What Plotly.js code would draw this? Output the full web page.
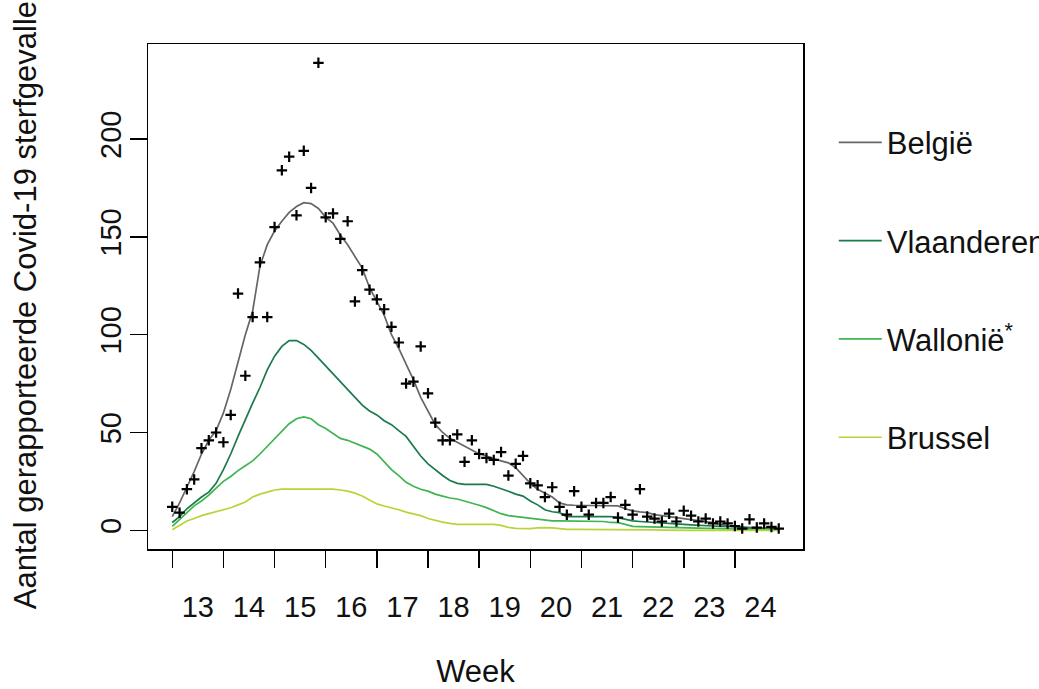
<!DOCTYPE html>
<html>
<head>
<meta charset="utf-8">
<script src="https://cdn.plot.ly/plotly-3.0.1.min.js"></script>
<style>html,body{margin:0;padding:0;background:#fff;}#chart{width:1039px;height:689px;}</style>
</head>
<body>
<div id="chart"></div>
<script>
// Day index 0 = first day of week 13
const days = Array.from({length: 84}, (_, i) => i);
const weekLabels = ['13','14','15','16','17','18','19','20','21','22','23','24'];
const weekStarts = [0,7,14,21,28,35,42,49,56,63,70,77];
const weekMids = [3.5,10.5,17.5,24.5,31.5,38.5,45.5,52.5,59.5,66.5,73.5,80.5];

// Reported daily deaths (points)
const reported = [12,9,21,26,42,46,50,45,59,121,79,109,137,109,155,184,191,161,194,175,
  239,160,162,149,158,117,133,123,118,113,104,96,75,76,94,70,55,46,46,49,
  35,46,39,37,36,40,28,34,38,24,23,17,22,12,8,20,12,8,14,14,
  17,6.5,13,8,21,7,6,4.5,8.5,4.5,10,7.5,4.5,6,3.5,4.5,3.5,2.2,0.9,5.6,
  1.4,3.5,1.7,0.9];

// Smoothed series
const belgie = [7,14,22,30,39,46,51,60,72,86,100,112,135,146,153,158,162.5,165.5,167.5,167,
  164.5,160,157,151,146,140,134,124,117,110,100,93,85,77,68,61,54,50,47,45,
  43,41,39,38,36.5,35.5,34.5,32,28,24,21,19,17,14,13,12.8,12.8,12.8,12.8,12.8,
  12.5,12.5,11,9.9,9.4,9,8,7.5,7,6.5,6,5.6,5,4.5,3.9,3,2.2,1.9,1.6,1.4,
  1.2,1.1,1,0.9];
const vlaanderen = [4,7,11,14,17,19.5,24,31,39,48,57,65,73,82,89,94,97,97,95,92,
  88,84,80,76,72,68,64,61,59,56,54,51,48,43,38,34,31,28,25.5,24,
  23.5,23.5,23.5,23.5,22.5,21.3,20,18.5,17.5,15,13,10.5,9.5,9,7,7,7,7,7,7,
  7,6.5,5.5,4.8,4.5,4.2,3.9,3.9,3.5,3.2,3,2.8,2.5,2.3,2.2,2,2,1.9,1.5,1,
  0.9,0.8,0.6,0.5];
const wallonie = [2,5.5,9.5,12.5,15,18,21.5,25,27.5,30.5,33,35.5,39,43,47,51,54.5,57,58,57,
  54,52,49.5,47,46,44.5,43,41.5,39,35,31,28,24.5,22.5,21,20,18.5,17.5,16.5,16,
  15,14,12.8,11.6,10,8.5,7.5,7,6.5,6,5.5,5,4.8,4.8,4.8,4.8,4.8,4.8,4.8,4.5,
  4,3.9,3,2,1.9,1.8,1.6,1.5,1.3,1.1,1,1,0.9,0.8,0.7,0.6,0.6,0.5,0.5,0.4,
  0.3,0.3,0.2,0.2];
const brussel = [0.3,2.5,4.8,6,7.5,8.5,9.5,10.5,11.5,13,14.5,17,18.5,19.5,20.6,21,21,21,21,21,
  21,21,21,20.6,20,19,17.5,15.5,13.5,12.4,11.5,10.5,9.3,8.5,7.5,6,5,4.2,3.5,3,
  3,3,3,3,3,2.5,1.5,1,0.9,0.9,1.2,1.4,1.2,0.8,0.5,0.5,0.5,0.5,0.5,0.5,
  0.5,0.5,0.5,0.5,0.5,0.5,0.2,0.1,0,0,0,0,0,0,0,0,0,0,0,0,
  0,0,0,0];

const seriesNames = ['België','Vlaanderen','Wallonië<sup>*</sup>','Brussel'];
const seriesColors = ['#666666','#1b7a4b','#3fb450','#b8d438'];
const seriesData = [belgie, vlaanderen, wallonie, brussel];

const FONT = 'Liberation Sans, Arial, sans-serif';
const FS_TICK = 29;
const FS_LAB = 31;
const XR = [-3.32, 86.32];

const traces = seriesData.map((ys, i) => ({
  x: days, y: ys, type: 'scatter', mode: 'lines',
  name: seriesNames[i], legendgroup: 'g' + i,
  line: {color: seriesColors[i], width: 1.7},
  hoverinfo: 'skip'
}));
traces.unshift({
  x: days, y: reported, type: 'scatter', mode: 'markers', showlegend: false,
  xaxis: 'x2', yaxis: 'y',
  marker: {symbol: 'cross-thin', size: 7.5, color: '#000', line: {color: '#000', width: 2.2}},
  hoverinfo: 'skip'
});

const layout = {
  width: 1039, height: 689,
  margin: {l: 148, r: 236, t: 44, b: 140, pad: 0, autoexpand: false},
  paper_bgcolor: '#fff', plot_bgcolor: '#fff',
  font: {family: FONT, size: FS_LAB, color: '#111'},
  showlegend: true,
  legend: {
    x: 1.047, xanchor: 'left', y: 0.858, yanchor: 'top',
    font: {family: FONT, size: FS_LAB, color: '#111'},
    tracegroupgap: 55, itemwidth: 43, bgcolor: 'rgba(0,0,0,0)'
  },
  xaxis: {
    range: XR, tickvals: weekStarts, showticklabels: false,
    ticks: 'outside', ticklen: 17, tickwidth: 1.5, tickcolor: '#000',
    showline: true, mirror: true, linecolor: '#000', linewidth: 1.5,
    showgrid: false, zeroline: false
  },
  xaxis2: {
    range: XR, overlaying: 'x', side: 'bottom', anchor: 'y',
    tickvals: weekMids, ticktext: weekLabels, ticks: '',
    ticklabelstandoff: 38,
    showline: false, showgrid: false, zeroline: false,
    tickfont: {family: FONT, size: FS_TICK, color: '#111'},
    title: {text: 'Week', font: {family: FONT, size: FS_LAB, color: '#111'}, standoff: 51}
  },
  yaxis: {
    range: [-9.56, 248.6], tickvals: [0,50,100,150,200],
    tickangle: -90, ticklabelstandoff: -3,
    ticks: 'outside', ticklen: 17, tickwidth: 1.5, tickcolor: '#000',
    showline: true, mirror: true, linecolor: '#000', linewidth: 1.5,
    showgrid: false, zeroline: false,
    tickfont: {family: FONT, size: FS_TICK, color: '#111'},
    title: {text: 'Aantal gerapporteerde Covid-19 sterfgevallen', font: {family: FONT, size: FS_LAB, color: '#111'}, standoff: 49}
  }
};

Plotly.newPlot('chart', traces, layout, {displayModeBar: false, staticPlot: true});
</script>
</body>
</html>
